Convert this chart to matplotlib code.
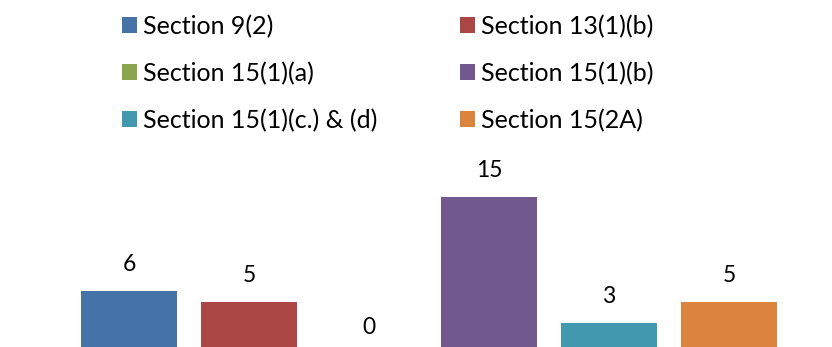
import matplotlib.pyplot as plt

# --- data ---
categories = ["Section 9(2)", "Section 13(1)(b)", "Section 15(1)(a)",
              "Section 15(1)(b)", "Section 15(1)(c.) & (d)", "Section 15(2A)"]
values = [6, 5, 0, 15, 3, 5]
colors = ["#4572A7", "#AA4643", "#89A54E", "#71588F", "#4198AF", "#DB843D"]

plt.rcParams['font.family'] = ['Lato', 'DejaVu Sans']

fig = plt.figure(figsize=(8.32, 3.47), dpi=100)
ax = fig.add_axes([69 / 832, 0, 720 / 832, 1])

bars = ax.bar(range(len(values)), values, width=0.8, color=colors, label=categories)
for i, v in enumerate(values):
    ax.text(i, v + 2.55, str(v), ha='center', va='center', fontsize=16.5, color='black')

# y scale: 0 sits at 354 px from top (below the picture), 10.44 px per unit
px_per_unit = 10.44
ymin = (354 - 347) / px_per_unit
ymax = ymin + 347 / px_per_unit
ax.set_ylim(ymin, ymax)
ax.set_xlim(-0.5, 5.5)
ax.axis('off')

# legend, row-wise order in two columns
order = [0, 2, 4, 1, 3, 5]
handles = [bars[i] for i in order]
labels = [categories[i] for i in order]
fig.legend(handles, labels, ncol=2, loc='upper left', bbox_to_anchor=(99 / 832, 1 + 8 / 347),
           frameon=False, fontsize=18, handlelength=0.6, handleheight=0.6,
           handletextpad=0.25, labelspacing=0.95, columnspacing=3.3)

fig.savefig("out.png", dpi=100)
